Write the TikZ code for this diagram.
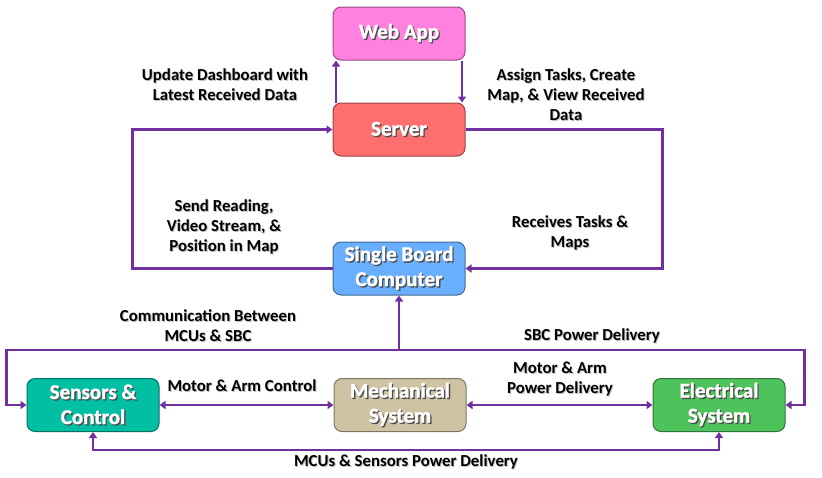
\documentclass[tikz,border=0pt]{standalone}
\usepackage{fontspec}
\setmainfont{Carlito}
\newfontfamily\boxfont{Carlito Bold}[FakeBold=1.5]
\usetikzlibrary{arrows.meta}
\definecolor{pl}{HTML}{7030A0}
\definecolor{cweb}{HTML}{FF80DF}
\definecolor{cserv}{HTML}{FF6F6F}
\definecolor{csbc}{HTML}{6AAFFF}
\definecolor{csens}{HTML}{00BFA2}
\definecolor{cmech}{HTML}{CEC4A4}
\definecolor{celec}{HTML}{4EC35B}
\newcommand\shtext[1]{\rlap{\kern1.3pt\raisebox{-1.3pt}{\textcolor{black!70}{#1}}}#1}
\newcommand\lbtext[1]{\rlap{\kern1pt\raisebox{-1pt}{\textcolor{black!25}{#1}}}#1}
\tikzset{
  box/.style={draw=#1!60!black, fill=#1, line width=1pt, rounded corners=8pt,
    minimum width=132pt, minimum height=53pt, align=center, text=white,
    font=\boxfont\fontsize{21}{25}\selectfont, inner sep=2pt},
  lbl/.style={align=center, font=\fontsize{16.8}{20}\selectfont\bfseries, text=black, inner sep=0pt},
  arr/.style={draw=pl, line width=2.7pt, -{Triangle[length=6pt,width=8pt]}},
  darr/.style={draw=pl, line width=2.7pt, {Triangle[length=6pt,width=8pt]}-{Triangle[length=6pt,width=8pt]}},
}
\begin{document}
\begin{tikzpicture}[x=1pt,y=-1pt]
\useasboundingbox (0,0) rectangle (822,477);
\node[box=cweb]  (web)  at (399,33.5)  {\shtext{Web App}};
\node[box=cserv] (serv) at (399,129.5) {\shtext{Server}};
\node[box=csbc]  (sbc)  at (399,268.5) {\shtext{Single Board}\\\shtext{Computer}};
\node[box=csens] (sens) at (93,405)    {\shtext{Sensors \&}\\\shtext{Control}};
\node[box=cmech] (mech) at (400,405)   {\shtext{Mechanical}\\\shtext{System}};
\node[box=celec] (elec) at (719,405)   {\shtext{Electrical}\\\shtext{System}};

\draw[arr] ([xshift=-63pt]serv.north) -- ([xshift=-63pt]web.south);
\draw[arr] ([xshift=63pt]web.south) -- ([xshift=63pt]serv.north);
\draw[arr] (serv.east) -- ++(197,0) |- (sbc.east);
\draw[arr] (sbc.west) -- ++(-200,0) |- (serv.west);

\coordinate (j) at (399,350);
\draw[arr] (j) -- (sbc.south);
\draw[arr] (j) -| ([xshift=-20pt]sens.west) -- (sens.west);
\draw[arr] (j) -| ([xshift=19pt]elec.east) -- (elec.east);
\draw[darr] (sens.east) -- (mech.west);
\draw[darr] (mech.east) -- (elec.west);
\draw[darr] (sens.south) -- ++(0,18) -| (elec.south);

\node[lbl] (l1) at (225,85) {\lbtext{Update Dashboard with}\\\lbtext{Latest Received Data}};
\node[lbl] (l2) at (566,95) {\lbtext{Assign Tasks, Create}\\\lbtext{Map, \& View Received}\\\lbtext{Data}};
\node[lbl] (l3) at (224,227) {\lbtext{Send Reading,}\\\lbtext{Video Stream, \&}\\\lbtext{Position in Map}};
\node[lbl] (l4) at (570,233) {\lbtext{Receives Tasks \&}\\\lbtext{Maps}};
\node[lbl] (l5) at (208,326) {\lbtext{Communication Between}\\\lbtext{MCUs \& SBC}};
\node[lbl] (l6) at (592,336) {\lbtext{SBC Power Delivery}};
\node[lbl] (l7) at (242,386) {\lbtext{Motor \& Arm Control}};
\node[lbl] (l8) at (560,380) {\lbtext{Motor \& Arm}\\\lbtext{Power Delivery}};
\node[lbl] (l9) at (406,462) {\lbtext{MCUs \& Sensors Power Delivery}};
\end{tikzpicture}
\end{document}
